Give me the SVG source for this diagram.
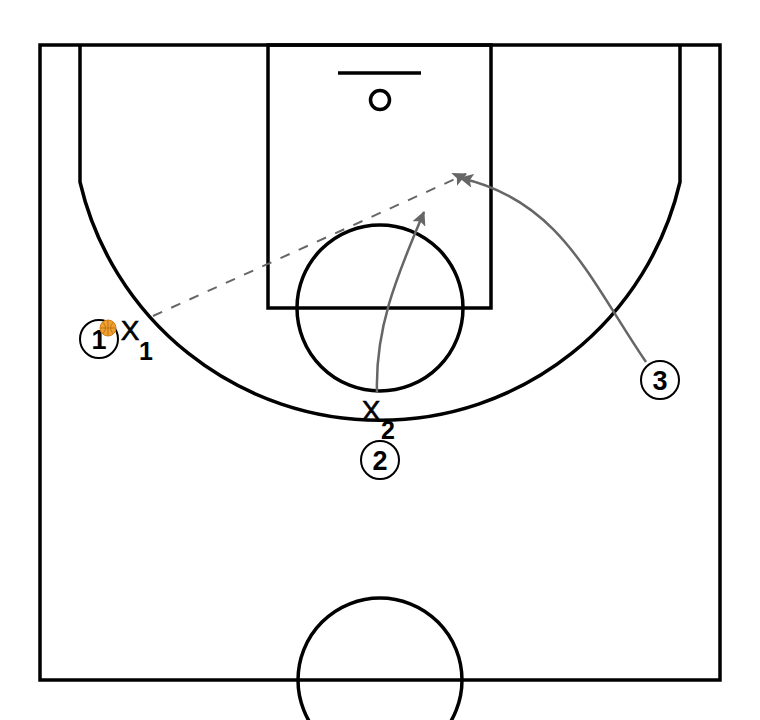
<svg xmlns="http://www.w3.org/2000/svg" width="760" height="720" viewBox="0 0 760 720">
<defs>
<style>
.court{fill:none;stroke:#000;stroke-width:3.5}
.pc{fill:#fff;stroke:#000;stroke-width:2}
.mv{fill:none;stroke:#666;stroke-width:2.5}
.ps{fill:none;stroke:#666;stroke-width:2;stroke-dasharray:10 10}
</style>
<marker id="ah" markerUnits="userSpaceOnUse" markerWidth="16" markerHeight="14" refX="13" refY="7" orient="auto">
<path d="M0,0 L14,7 L0,14 L3,7 Z" fill="#666"/>
</marker>
</defs>
<rect width="760" height="720" fill="#fff"/>
<g id="court">
<rect class="court" x="40" y="45" width="680" height="635"/>
<rect class="court" x="268" y="45" width="223" height="263"/>
<circle class="court" cx="380" cy="308" r="83"/>
<path class="court" d="M80,45 L80,182 A308,308 0 0 0 680,182 L680,45"/>
<line class="court" x1="338" y1="73" x2="421" y2="73"/>
<circle class="court" cx="380" cy="100" r="9.5"/>
<circle class="court" cx="380" cy="680" r="82"/>
</g>
<g id="connectors">
<line class="ps" x1="153" y1="316" x2="466" y2="174" marker-end="url(#ah)"/>
<path class="mv" d="M377,393 C375,330 395,280 424,212" marker-end="url(#ah)"/>
<path class="mv" d="M646,362 C590,280 560,200 460,178" marker-end="url(#ah)"/>
</g>
<g font-family="Liberation Sans, Arial, sans-serif" text-anchor="middle" fill="#000">
<g id="player1">
<circle class="pc" cx="99" cy="339" r="19"/>
<text x="99" y="349" font-size="27" font-weight="bold">1</text>
</g>
<g id="ball">
<circle cx="108" cy="328" r="8" fill="#f0a030" stroke="#d08010" stroke-width="1"/>
<path d="M100.5,328 H115.5 M108,320.5 V335.5 M103,322.5 Q108,328 103,333.5 M113,322.5 Q108,328 113,333.5" fill="none" stroke="#b06a10" stroke-width="0.8"/>
</g>
<g id="player2">
<circle class="pc" cx="380" cy="460" r="19"/>
<text x="380" y="470" font-size="27" font-weight="bold">2</text>
</g>
<g id="player3">
<circle class="pc" cx="660" cy="380" r="19"/>
<text x="660" y="390" font-size="27" font-weight="bold">3</text>
</g>
<g id="defender1">
<text x="130" y="340" font-size="28" stroke="#000" stroke-width="0.6">X</text>
<text x="146" y="360" font-size="25" font-weight="bold">1</text>
</g>
<g id="defender2">
<text x="371" y="420" font-size="28" stroke="#000" stroke-width="0.6">X</text>
<text x="388" y="439" font-size="25" font-weight="bold">2</text>
</g>
</g>
</svg>
